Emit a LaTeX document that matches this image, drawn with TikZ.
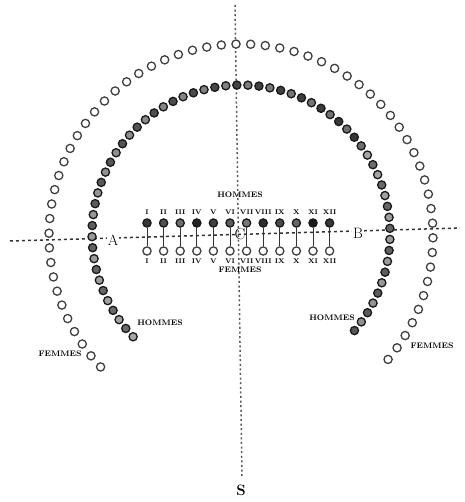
\documentclass[tikz,border=0pt]{standalone}
\usepackage{tikz}
\usetikzlibrary{positioning}
\tikzset{
  femme/.style={circle, draw=black!75, fill=white, line width=1.3pt, minimum size=8.2pt, inner sep=0pt},
  homme/.style={circle, draw=black!90, line width=1.3pt, minimum size=8.2pt, inner sep=0pt},
  axeh/.style={line width=1.5pt, black!80, dash pattern=on 3pt off 3pt},
  axev/.style={line width=1.5pt, black!65, dash pattern=on 2pt off 2.6pt},
  numeral/.style={font=\fontsize{6.8}{6.8}\selectfont\bfseries, inner sep=0pt},
  rowlabel/.style={font=\fontsize{8}{8}\selectfont\bfseries, inner sep=0pt},
  letter/.style={font=\fontsize{15}{15}\selectfont, fill=white, inner sep=1pt}
}
\begin{document}
\begin{tikzpicture}[x=1pt,y=-1pt]
  \useasboundingbox (0,0) rectangle (464,502);

  % axes
  \coordinate (west) at (10,241);
  \coordinate (east) at (460,228);
  \coordinate (north) at (235,5);
  \coordinate (south) at (242,478);
  \draw[axeh] (west) -- (east);
  \draw[axev] (north) -- (south);

  % outer ring: femmes
  \foreach \i in {0,...,60}{
    \pgfmathsetmacro\ang{223-\i*263/60}
    \node[femme] (of\i) at ({241+192*cos(\ang)},{236-192*sin(\ang)}) {};
  }

  % inner ring: hommes
  \foreach \i in {0,...,62}{
    \pgfmathsetmacro\ang{223.6-\i*264/62}
    \pgfmathtruncatemacro\tone{35+mod(\i*23,45)}
    \node[homme, fill=black!\tone] (ih\i) at ({241+149*cos(\ang)},{234-149*sin(\ang)}) {};
  }

  % the twelve pairs
  \foreach \n [count=\i] in {I,II,III,IV,V,VI,VII,VIII,IX,X,XI,XII}{
    \pgfmathsetmacro\xx{147+(\i-1)*16.6}
    \pgfmathtruncatemacro\tone{50+mod(\i*29,40)}
    \node[homme, fill=black!\tone] (h\i) at (\xx,223) {};
    \node[femme] (f\i) at (\xx,251) {};
    \draw[line width=1pt, black!80] (h\i) -- (f\i);
    \node[numeral] (nh\i) at (\xx,212) {\n};
    \node[numeral] (nf\i) at (\xx,261.5) {\n};
  }

  \node[rowlabel] (hommes) at (240,195) {HOMMES};
  \node[rowlabel] (femmes) at (240,270) {FEMMES};
  \node[rowlabel] (hommesg) at (160,323) {HOMMES};
  \node[rowlabel] (femmesg) at (60,354) {FEMMES};
  \node[rowlabel] (hommesd) at (332,318) {HOMMES};
  \node[rowlabel] (femmesd) at (432,346) {FEMMES};

  \node[letter] (a) at (113,240) {A};
  \node[letter] (b) at (358,233) {B};
  \node[letter, fill=none, font=\fontsize{16}{16}\selectfont] (c) at (240,234) {C};
  \node[letter, font=\fontsize{15}{15}\selectfont\bfseries] (s) at (241,490) {S};
\end{tikzpicture}
\end{document}
